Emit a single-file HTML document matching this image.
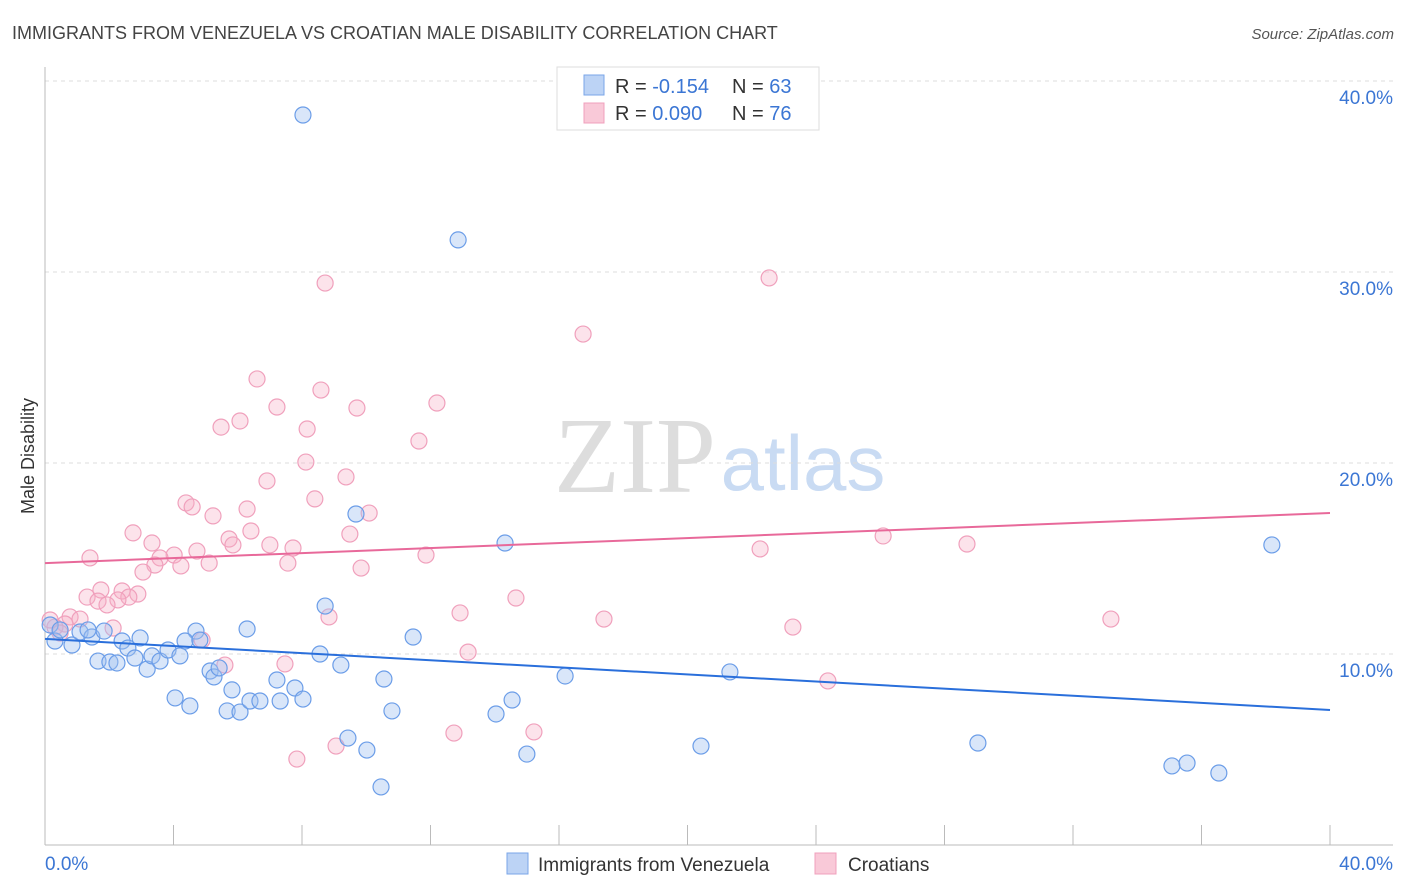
<!DOCTYPE html>
<html><head><meta charset="utf-8"><style>
body{margin:0;background:#fff;font-family:"Liberation Sans",sans-serif;}
svg{display:block}
</style></head><body>
<svg id="chart" width="1406" height="892" xmlns="http://www.w3.org/2000/svg">
<text x="12" y="39" font-size="18" fill="#444">IMMIGRANTS FROM VENEZUELA VS CROATIAN MALE DISABILITY CORRELATION CHART</text>
<text x="1394" y="39" font-size="15" fill="#555" font-style="italic" text-anchor="end">Source: ZipAtlas.com</text>
<g>
<text x="635" y="492" font-family="Liberation Serif,serif" font-size="108" fill="#ddd" text-anchor="middle">ZIP</text>
<text x="803" y="490" font-size="78" fill="#c9dbf3" text-anchor="middle">atlas</text>
</g>
<g id="grid"></g>
<g id="axes"></g>
<g id="marks"></g>
<text transform="translate(34,456) rotate(-90)" font-size="18" fill="#333" text-anchor="middle">Male Disability</text>
<g>
<rect x="557" y="67" width="262" height="63" fill="#fff" stroke="#ddd"/>
<rect x="584" y="75" width="20" height="20" fill="#bcd3f5" stroke="#7aa6e8"/>
<rect x="584" y="103" width="20" height="20" fill="#f9c9d8" stroke="#f0a0bc"/>
<text x="615" y="93" font-size="20" fill="#333">R = <tspan fill="#3b76d4">-0.154</tspan></text>
<text x="732" y="93" font-size="20" fill="#333">N = <tspan fill="#3b76d4">63</tspan></text>
<text x="615" y="120" font-size="20" fill="#333">R = <tspan fill="#3b76d4"> 0.090</tspan></text>
<text x="732" y="120" font-size="20" fill="#333">N = <tspan fill="#3b76d4">76</tspan></text>
</g>
<g>
<rect x="507" y="853" width="21" height="21" fill="#bcd3f5" stroke="#7aa6e8"/>
<text x="538" y="871" font-size="19" fill="#333">Immigrants from Venezuela</text>
<rect x="815" y="853" width="21" height="21" fill="#f9c9d8" stroke="#f0a0bc"/>
<text x="848" y="871" font-size="19" fill="#333">Croatians</text>
</g>
</svg>
<script>
const yTicks=[10,20,30,40];
const xTickLabels=["0.0%","40.0%"];
const blueX=[8.03,12.86,9.68,14.32,38.19,8.72,6.29,11.46,4.70,0.31,0.16,0.47,0.84,1.09,1.46,1.84,1.34,2.40,2.96,2.58,1.65,2.02,2.24,2.80,3.18,3.33,3.58,3.83,4.20,4.36,4.82,5.14,5.26,5.42,5.82,4.05,4.51,5.67,6.07,6.38,6.69,7.22,7.32,7.78,8.03,8.56,9.21,10.55,10.80,9.43,10.02,10.46,14.04,14.54,15.00,16.19,21.32,20.42,29.04,35.08,35.55,36.54];
const blueY=[38.22,31.68,17.33,15.81,15.71,12.51,11.31,10.89,11.20,10.68,11.52,11.26,10.47,11.15,10.89,11.20,11.26,10.68,10.84,10.31,9.63,9.58,9.53,9.79,9.21,9.90,9.63,10.21,9.90,10.68,10.73,9.11,8.80,9.27,8.12,7.70,7.28,7.02,6.96,7.54,7.54,8.64,7.54,8.22,7.64,10.00,9.42,8.69,7.02,5.60,4.97,3.04,6.86,7.59,4.76,8.85,9.06,5.18,5.34,4.14,4.29,3.77];
const pinkX=[8.72,22.54,16.75,6.60,8.59,7.22,9.71,12.20,6.07,5.48,8.16,11.64,8.12,6.91,9.37,8.40,4.39,4.58,6.29,10.09,5.23,6.41,2.74,9.49,5.73,3.33,7.00,5.85,7.72,4.73,4.02,1.40,3.58,11.86,5.11,4.23,7.56,3.42,3.05,9.84,1.74,1.31,2.40,2.89,2.61,2.27,1.65,1.93,12.92,14.66,8.84,17.40,23.28,33.18,0.78,1.09,0.62,0.31,2.12,0.16,0.47,13.17,4.89,5.60,7.47,24.37,12.73,15.22,9.06,7.84,22.26,26.09,28.70];
const pinkY=[29.42,29.69,26.75,24.40,23.82,22.93,22.88,23.14,22.20,21.88,21.78,21.15,20.05,19.06,19.27,18.12,17.91,17.70,17.59,17.38,17.23,16.44,16.34,16.28,16.02,15.81,15.71,15.71,15.55,15.39,15.18,15.03,15.03,15.18,14.76,14.61,14.76,14.66,14.29,14.50,13.35,12.98,13.30,13.14,12.98,12.83,12.77,12.57,12.15,12.93,11.94,11.83,11.41,11.83,11.94,11.83,11.57,11.41,11.36,11.78,11.10,10.10,10.73,9.42,9.48,8.59,5.86,5.92,5.18,4.50,15.50,16.18,15.76];
const blueTrend=[10.79,7.07];
const pinkTrend=[14.76,17.38];
const X0=45,X1=1330,Y0=845;
const sx=v=>X0+v*(X1-X0)/40;
const sy=v=>Y0-v*19.1;
const NS="http://www.w3.org/2000/svg";
function mk(tag,attrs,parent){const e=document.createElementNS(NS,tag);for(const k in attrs)e.setAttribute(k,attrs[k]);parent.appendChild(e);return e;}
const grid=document.getElementById('grid'),axes=document.getElementById('axes'),marks=document.getElementById('marks');
yTicks.forEach(t=>{
 const l=mk('line',{x1:X0,x2:1393,y1:sy(t),y2:sy(t),stroke:'#ddd','stroke-dasharray':'4,4'},grid);
 
 
 const tx=mk('text',{x:1393,y:sy(t)+23,'font-size':19,fill:'#3b76d4','text-anchor':'end'},axes);
 tx.textContent=t.toFixed(1)+'%';
 
 
});
const ya=mk('line',{x1:X0,x2:X0,y1:67,y2:Y0,stroke:'#bbb'},axes);


const xa=mk('line',{x1:X0,x2:1393,y1:Y0,y2:Y0,stroke:'#bbb'},axes);


for(let i=0;i<=10;i++){const v=i*4;const t=mk('line',{x1:sx(v),x2:sx(v),y1:825,y2:Y0,stroke:'#bbb'},axes);
 
 }
[[0,'start',X0],[40,'end',1393]].forEach((d,i)=>{const t=mk('text',{x:d[2],y:870,'font-size':19,fill:'#3b76d4','text-anchor':d[1]},axes);t.textContent=xTickLabels[i];
 
 });
function pts(xs,ys,fill,stroke,name){xs.forEach((x,i)=>{const c=mk('circle',{cx:sx(x),cy:sy(ys[i]),r:8,fill:fill,stroke:stroke,'stroke-width':1.2},marks);
 
 });}
pts(pinkX,pinkY,'rgba(246,175,198,0.35)','#f0a0bc','point-croatians');
pts(blueX,blueY,'rgba(160,192,240,0.4)','#6b9de8','point-venezuela');
const bl=mk('line',{x1:sx(0),x2:sx(40),y1:sy(blueTrend[0]),y2:sy(blueTrend[1]),stroke:'#2a6fdb','stroke-width':2},marks);


const pl=mk('line',{x1:sx(0),x2:sx(40),y1:sy(pinkTrend[0]),y2:sy(pinkTrend[1]),stroke:'#e8699a','stroke-width':2},marks);


</script>
</body></html>
